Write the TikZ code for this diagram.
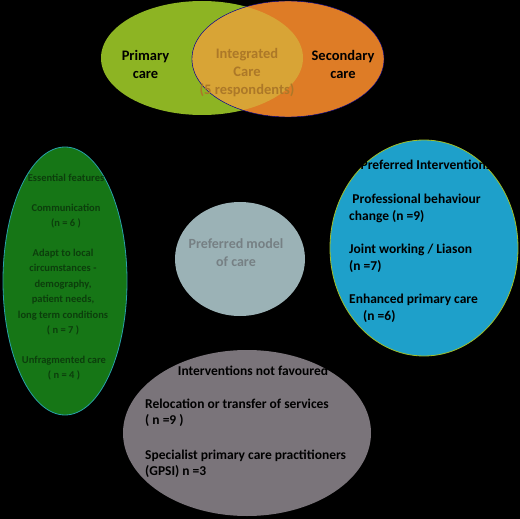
\documentclass[tikz,border=0pt]{standalone}
\usepackage{fontspec}
\setmainfont{Carlito}
\usetikzlibrary{shapes.geometric}
\definecolor{pgreen}{RGB}{141,180,35}
\definecolor{sorange}{RGB}{222,124,38}
\definecolor{overlap}{RGB}{216,164,54}
\definecolor{inttext}{RGB}{172,120,40}
\definecolor{lgreen}{RGB}{22,118,22}
\definecolor{lgreenb}{RGB}{40,160,170}
\definecolor{lgtext}{RGB}{12,62,12}
\definecolor{cblue}{RGB}{155,178,182}
\definecolor{ctext}{RGB}{118,128,132}
\definecolor{rblue}{RGB}{30,160,202}
\definecolor{rborder}{RGB}{160,190,40}
\definecolor{bgray}{RGB}{122,116,122}
\tikzset{
  txt/.style={font=\bfseries\fontsize{13.5}{17}\selectfont, inner sep=0pt, text=black},
  venntxt/.style={font=\bfseries\fontsize{14.5}{18}\selectfont, align=center, inner sep=0pt},
  lgt/.style={font=\bfseries\fontsize{10.5}{15.5}\selectfont, inner sep=0pt, text=lgtext, align=center},
}
\begin{document}
\begin{tikzpicture}[x=1pt,y=-1pt]
\fill[black] (0,0) rectangle (520,519);
\useasboundingbox (0,0) rectangle (520,519);
% Venn
\path[fill=pgreen] (202,58) ellipse [x radius=101, y radius=57] coordinate (pc);
\path[fill=sorange, draw=blue!60!black, line width=0.4pt] (288,59) ellipse [x radius=96, y radius=58] coordinate (sc);
\begin{scope}
  \clip (202,58) ellipse [x radius=101, y radius=57];
  \path[fill=overlap, draw=blue!60!black, line width=0.4pt] (288,59) ellipse [x radius=96, y radius=58];
\end{scope}
\node[venntxt] (prim) at (145.5,64) {Primary\\care};
\node[venntxt, text=inttext] (integ) at (247,73) {Integrated\\Care\\(5 respondents)};
\node[venntxt] (sec) at (343,64) {Secondary\\care};
% left green ellipse
\node[ellipse, minimum width=124pt, minimum height=268pt, fill=lgreen, draw=lgreenb, line width=0.8pt, inner sep=0pt] (left) at (65,281) {};
\node[lgt] (l1) at (66,178) {Essential features};
\node[lgt] (l2) at (66,216) {Communication\\(n = 6 )};
\node[lgt] (l3) at (63,292) {Adapt to local\\circumstances -\\demography,\\patient needs,\\long term conditions\\( n = 7 )};
\node[lgt] (l4) at (64,368) {Unfragmented care\\( n = 4 )};
% centre circle
\node[ellipse, minimum width=130pt, minimum height=114pt, fill=cblue, inner sep=0pt] (centre) at (240,259) {};
\node[font=\bfseries\fontsize{14}{18}\selectfont, text=ctext, align=center, inner sep=0pt] (ctxt) at (236,253) {Preferred model\\of care};
% right blue ellipse
\node[ellipse, minimum width=188pt, minimum height=216pt, fill=rblue, draw=rborder, line width=0.8pt, inner sep=0pt] (right) at (424,248) {};
\node[txt, anchor=base] (r0) at (426,169) {Preferred Interventions};
\node[txt, anchor=base west] (r1) at (350,203) {\,Professional behaviour};
\node[txt, anchor=base west] (r2) at (349,220) {change (n =9)};
\node[txt, anchor=base west] (r3) at (349,253) {Joint working / Liason};
\node[txt, anchor=base west] (r4) at (349,270) {(n =7)};
\node[txt, anchor=base west] (r5) at (349,303) {Enhanced primary care};
\node[txt, anchor=base west] (r6) at (363,320) {(n =6)};
% bottom gray ellipse
\node[ellipse, minimum width=248pt, minimum height=166pt, fill=bgray, inner sep=0pt] (bottom) at (247,433) {};
\node[txt, anchor=base] (b0) at (253,375) {Interventions not favoured};
\node[txt, anchor=base west] (b1) at (145,408) {Relocation or transfer of services};
\node[txt, anchor=base west] (b2) at (145,424) {( n =9 )};
\node[txt, anchor=base west] (b3) at (145,459) {Specialist primary care practitioners};
\node[txt, anchor=base west] (b4) at (145,475) {(GPSI) n =3};
\end{tikzpicture}
\end{document}
